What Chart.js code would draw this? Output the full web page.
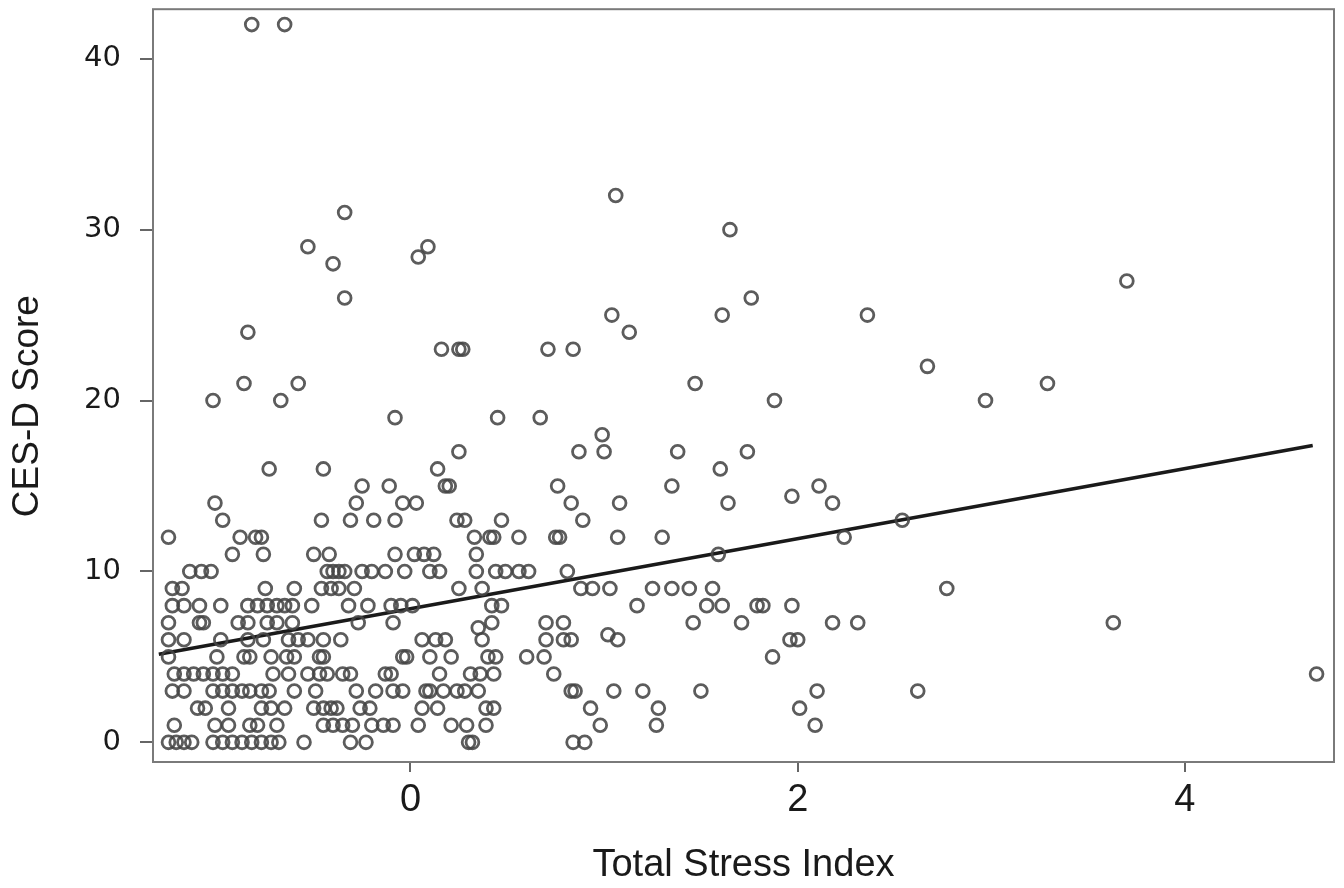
<!DOCTYPE html>
<html>
<head>
<meta charset="utf-8">
<title>CES-D Score vs Total Stress Index</title>
<script src="https://cdn.jsdelivr.net/npm/chart.js@4.4.1/dist/chart.umd.min.js"></script>
<style>
  html, body { margin: 0; padding: 0; background: #fff; }
  #wrap { width: 1344px; height: 888px; }
</style>
</head>
<body>
<div id="wrap"><canvas id="myChart" width="1344" height="888"></canvas></div>
<script>
// CES-D score levels (rows of points) and the Total Stress Index of each point on that row
const cesdLevels = [42, 32, 31, 30, 29, 28.4, 28, 27, 26, 25, 24, 23, 22, 21, 20, 19, 18, 17, 16, 15, 14.4, 14, 13, 12, 11, 10, 9, 8, 7, 6.7, 6.3, 6, 5, 4, 3, 2, 1, 0];
const stressAtLevel = [
  [-0.82, -0.65],                                   // 42
  [1.06],                                           // 32
  [-0.34],                                          // 31
  [1.65],                                           // 30
  [-0.53, 0.09],                                    // 29
  [0.04],                                           // 28.4
  [-0.40],                                          // 28
  [3.70],                                           // 27
  [-0.34, 1.76],                                    // 26
  [1.04, 1.61, 2.36],                               // 25
  [-0.84, 1.13],                                    // 24
  [0.16, 0.25, 0.27, 0.71, 0.84],                   // 23
  [2.67],                                           // 22
  [-0.86, -0.58, 1.47, 3.29],                       // 21
  [-1.02, -0.67, 1.88, 2.97],                       // 20
  [-0.08, 0.45, 0.67],                              // 19
  [0.99],                                           // 18
  [0.25, 0.87, 1.00, 1.38, 1.74],                   // 17
  [-0.73, -0.45, 0.14, 1.60],                       // 16
  [-0.25, -0.11, 0.18, 0.20, 0.76, 1.35, 2.11],     // 15
  [1.97],                                           // 14.4
  [-1.01, -0.28, -0.04, 0.03, 0.83, 1.08, 1.64, 2.18],
  [-0.97, -0.46, -0.31, -0.19, -0.08, 0.24, 0.28, 0.47, 0.89, 2.54],
  [-1.25, -0.88, -0.80, -0.77, 0.33, 0.41, 0.43, 0.56, 0.75, 0.77, 1.07, 1.30, 2.24],
  [-0.92, -0.76, -0.50, -0.42, -0.08, 0.02, 0.07, 0.12, 0.34, 1.59],
  [-1.14, -1.08, -1.03, -0.43, -0.40, -0.37, -0.34, -0.25, -0.20, -0.13, -0.03, 0.10, 0.15, 0.34, 0.44, 0.49, 0.56, 0.61, 0.81],
  [-1.23, -1.18, -0.75, -0.60, -0.46, -0.41, -0.37, -0.29, 0.25, 0.37, 0.88, 0.94, 1.03, 1.25, 1.35, 1.44, 1.56, 2.77],
  [-1.23, -1.17, -1.09, -0.98, -0.84, -0.79, -0.74, -0.69, -0.65, -0.61, -0.51, -0.32, -0.22, -0.10, -0.05, 0.01, 0.42, 0.47, 1.17, 1.53, 1.61, 1.79, 1.82, 1.97],
  [-1.25, -1.09, -1.07, -0.89, -0.84, -0.74, -0.69, -0.61, -0.27, -0.09, 0.42, 0.70, 0.79, 1.46, 1.71, 2.18, 2.31, 3.63],
  [0.35],                                           // 6.7
  [1.02],                                           // 6.3
  [-1.25, -1.17, -0.98, -0.84, -0.76, -0.63, -0.58, -0.53, -0.45, -0.36, 0.06, 0.13, 0.18, 0.37, 0.70, 0.79, 0.83, 1.07, 1.96, 2.00],
  [-1.25, -1.00, -0.86, -0.83, -0.72, -0.64, -0.60, -0.47, -0.45, -0.04, -0.02, 0.10, 0.21, 0.40, 0.44, 0.60, 0.69, 1.87],
  [-1.22, -1.17, -1.12, -1.07, -1.02, -0.97, -0.92, -0.71, -0.63, -0.53, -0.47, -0.43, -0.35, -0.31, -0.13, -0.10, 0.15, 0.31, 0.36, 0.43, 0.74, 4.68],
  [-1.23, -1.17, -1.02, -0.97, -0.92, -0.87, -0.83, -0.77, -0.73, -0.60, -0.49, -0.28, -0.18, -0.09, -0.04, 0.08, 0.10, 0.17, 0.24, 0.28, 0.35, 0.83, 0.85, 1.05, 1.20, 1.50, 2.10, 2.62],
  [-1.10, -1.06, -0.94, -0.77, -0.72, -0.65, -0.50, -0.45, -0.41, -0.38, -0.26, -0.21, 0.06, 0.14, 0.39, 0.43, 0.93, 1.28, 2.01],
  [-1.22, -1.01, -0.94, -0.83, -0.79, -0.69, -0.45, -0.40, -0.35, -0.30, -0.20, -0.14, -0.09, 0.04, 0.21, 0.29, 0.39, 0.98, 1.27, 2.09],
  [-1.25, -1.21, -1.17, -1.13, -1.02, -0.97, -0.92, -0.87, -0.82, -0.77, -0.72, -0.68, -0.55, -0.31, -0.23, 0.30, 0.32, 0.84, 0.90]
];

// fitted regression line end points
const fitStress = [-1.30, 4.66];
const fitCesd = [5.15, 17.37];

const xTicks = [0, 2, 4];
const yTicks = [0, 10, 20, 30, 40];

let scatterPoints = [];
cesdLevels.forEach(function (level, i) {
    stressAtLevel[i].forEach(function (s) {
        scatterPoints.push({ x: s, y: level });
    });
});
const fitPoints = fitStress.map(function (s, i) { return { x: s, y: fitCesd[i] }; });

// box round the plot area
const frameBox = {
    id: 'frameBox',
    beforeDatasetsDraw(chart) {
        const a = chart.chartArea;
        const ctx = chart.ctx;
        ctx.save();
        ctx.strokeStyle = '#7a7a7a';
        ctx.lineWidth = 2;
        ctx.strokeRect(a.left, a.top, a.right - a.left, a.bottom - a.top);
        ctx.restore();
    }
};

// no extra room for tick labels at the ends of the axes
function noEndPadding(s) {
    s.paddingTop = 0;
    s.paddingBottom = 0;
    s.paddingLeft = 0;
    s.paddingRight = 0;
}

const ctx = document.getElementById('myChart').getContext('2d');
const myChart = new Chart(ctx, {
    type: 'scatter',
    data: {
        datasets: [{
            label: 'Participants',
            data: scatterPoints,
            pointStyle: 'circle',
            pointRadius: 6.4,
            pointHoverRadius: 6.4,
            borderWidth: 2.8,
            borderColor: 'rgba(70, 70, 70, 0.88)',
            backgroundColor: 'rgba(0, 0, 0, 0)'
        }, {
            label: 'Fit',
            data: fitPoints,
            showLine: true,
            pointRadius: 0,
            borderColor: '#1a1a1a',
            borderWidth: 3.5,
            fill: false
        }]
    },
    options: {
        responsive: false,
        animation: false,
        devicePixelRatio: 1,
        layout: { padding: { left: 0, right: 10, top: 8, bottom: 0 } },
        plugins: {
            legend: { display: false },
            tooltip: { enabled: false }
        },
        scales: {
            x: {
                type: 'linear',
                min: -1.33,
                max: 4.77,
                afterBuildTicks: function (s) { s.ticks = xTicks.map(function (v) { return { value: v }; }); },
                afterFit: function (s) { s.height = 126; noEndPadding(s); },
                border: { display: false },
                grid: { drawOnChartArea: false, drawTicks: true, tickLength: 10, color: '#666', lineWidth: 2 },
                ticks: {
                    padding: 6,
                    color: '#1a1a1a',
                    font: { family: 'Liberation Sans', size: 38 }
                },
                title: {
                    display: true,
                    text: 'Total Stress Index',
                    color: '#1a1a1a',
                    font: { family: 'Liberation Sans', size: 38 },
                    padding: { top: 0, bottom: 0 }
                }
            },
            y: {
                type: 'linear',
                min: -1.15,
                max: 42.9,
                afterBuildTicks: function (s) { s.ticks = yTicks.map(function (v) { return { value: v }; }); },
                afterFit: function (s) { s.width = 153; noEndPadding(s); },
                border: { display: false },
                grid: { drawOnChartArea: false, drawTicks: true, tickLength: 13, color: '#666', lineWidth: 2 },
                ticks: {
                    padding: 19,
                    color: '#1a1a1a',
                    font: { family: 'DejaVu Sans', size: 29 }
                },
                title: {
                    display: true,
                    text: 'CES-D Score\u00A0\u00A0\u00A0\u00A0',
                    color: '#1a1a1a',
                    font: { family: 'Liberation Sans', size: 37 },
                    padding: { top: 6, bottom: 0 }
                }
            }
        }
    },
    plugins: [frameBox]
});
</script>
</body>
</html>
